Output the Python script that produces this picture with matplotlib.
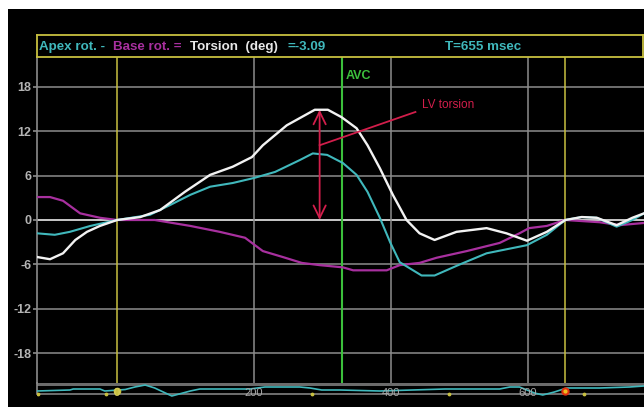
import numpy as np
import matplotlib.pyplot as plt

# time axis in msec, rotation in degrees
white_t = [-117, -98, -79, -61, -44, -25, 0, 34, 63, 99, 136, 169, 197, 213, 248, 289, 308,
           328, 350, 366, 384, 403, 423, 442, 464, 496, 540, 569, 599, 628, 655, 679, 701, 730, 753, 770]
torsion = [-5.0, -5.3, -4.5, -2.7, -1.6, -0.8, 0.0, 0.4, 1.35, 3.8, 6.1, 7.2, 8.5, 10.1, 12.8, 14.9, 14.9,
           13.9, 12.4, 10.1, 7.0, 3.4, 0.0, -1.8, -2.7, -1.6, -1.1, -1.8, -2.8, -1.6, 0.0, 0.4, 0.3, -0.7, 0.3, 0.9]

apex_t = [-117, -91, -69, -39, 0, 48, 77, 107, 136, 169, 201, 231, 267, 286, 307, 330, 350, 366,
          384, 399, 413, 445, 464, 501, 540, 599, 628, 655, 679, 701, 730, 753, 770]
apex_rot = [-1.8, -2.0, -1.6, -0.8, 0.0, 0.7, 2.0, 3.4, 4.5, 5.0, 5.7, 6.5, 8.1, 9.0, 8.8, 7.7, 6.1, 3.8,
            0.3, -3.0, -5.7, -7.5, -7.5, -6.0, -4.5, -3.4, -2.0, 0.0, 0.4, 0.3, -0.9, 0.0, 0.9]

base_t = [-117, -98, -79, -54, -25, 0, 55, 107, 150, 187, 213, 242, 270, 296, 330, 345, 394, 413,
          442, 467, 511, 559, 588, 602, 628, 655, 705, 734, 770]
base_rot = [3.1, 3.1, 2.6, 0.9, 0.3, 0.0, 0.0, -0.8, -1.6, -2.4, -4.2, -5.0, -5.8, -6.1, -6.4, -6.8, -6.8, -6.1,
            -5.8, -5.1, -4.2, -3.1, -1.8, -1.1, -0.8, 0.0, -0.3, -0.7, -0.4]

# ecg strip (arbitrary units)
ecg_t = [-117, -69, -64, -25, -18, 12, 26, 41, 55, 80, 107, 121, 194, 216, 267, 282, 299, 326,
         384, 479, 559, 574, 588, 610, 622, 639, 657, 705, 749, 770]
ecg_v = [-1, 0, 1, 1, -1, 0.5, 3, 5, 2, -6, -1, 1, 1, 3, 3, 2, 0, 0,
         -1, 1, 1, 3, 3, -3, -5, -2, 2, 2, 3, 4]
marker_t = [-115, -16, 285, 485, 683]

yticks = [-18, -12, -6, 0, 6, 12, 18]
grid_t = [200, 400, 600]
xlabels = ['200', '400', '600']
avc_t = 328
frame_t = [0, 655]

W, H = 644, 408
def fig_box(x0, y0, x1, y1):
    return [x0 / W, 1 - y1 / H, (x1 - x0) / W, (y1 - y0) / H]

plt.rcParams['font.family'] = ['Liberation Sans', 'DejaVu Sans']
fig = plt.figure(figsize=(6.44, 4.08), dpi=100)
fig.patch.set_facecolor('white')

bg = fig.add_axes(fig_box(8, 9, 644, 407))
bg.set_facecolor('black')
bg.set_xticks([])
bg.set_yticks([])
for s in bg.spines.values():
    s.set_visible(False)

yellow = '#c8c040'
cyan = '#40b8bc'
magenta = '#a8309f'
gray = '#8c8c8c'
crimson = '#d21e4b'
green = '#3cc03c'

# main plot
ax = fig.add_axes(fig_box(37, 57, 644, 383))
ax.set_facecolor('black')
ax.set_xlim(-117, 770)
ax.set_ylim(-22.03, 22.03)
for side in ['top', 'right', 'bottom']:
    ax.spines[side].set_visible(False)
ax.spines['left'].set_color(gray)
ax.spines['left'].set_linewidth(1.2)
ax.set_xticks([])
ax.set_yticks(yticks)
ax.set_yticklabels([str(v) for v in yticks], fontsize=9, fontweight='bold')
ax.tick_params(axis='y', colors=gray, length=3, width=1.2, pad=1)
for lab in ax.get_yticklabels():
    lab.set_color('#b4b4b4')

for v in yticks:
    ax.axhline(v, color='#d8d8d8' if v == 0 else gray, lw=1.3 if v == 0 else 1.1, zorder=1)
for t in grid_t:
    ax.axvline(t, color=gray, lw=1.1, zorder=1)
for t in frame_t:
    ax.axvline(t, color=yellow, lw=1.1, zorder=2)
ax.axvline(avc_t, color=green, lw=1.5, zorder=2)
ax.text(avc_t + 6, 19.5, 'AVC', color=green, fontsize=9, fontweight='bold', va='center')

ax.plot(base_t, base_rot, color=magenta, lw=1.6, zorder=3)
ax.plot(apex_t, apex_rot, color=cyan, lw=1.5, zorder=4)
ax.plot(white_t, torsion, color='#f2f2f2', lw=1.7, zorder=5)

# LV torsion annotation
ax.annotate('', xy=(296, 14.9), xytext=(296, 0.0),
            arrowprops=dict(arrowstyle='<->,head_length=0.45,head_width=0.22', color=crimson,
                            lw=1.3, shrinkA=0, shrinkB=0, mutation_scale=20), zorder=6)
ax.plot([296, 436], [10.1, 14.6], color=crimson, lw=1.3, zorder=6)
ax.text(446, 15.5, 'LV torsion', color=crimson, fontsize=8.5, va='center')

# header box
hd = fig.add_axes(fig_box(37, 35, 643, 57))
hd.set_facecolor('black')
hd.set_xticks([])
hd.set_yticks([])
for s in hd.spines.values():
    s.set_color(yellow)
    s.set_linewidth(1.3)

hy = 1 - 47 / H
fs = 9.6
fig.text(39 / W, hy, 'Apex rot. -', color=cyan, fontsize=fs, fontweight='bold', va='center')
fig.text(113 / W, hy, 'Base rot. =', color=magenta, fontsize=fs, fontweight='bold', va='center')
fig.text(190 / W, hy, 'Torsion  (deg)', color='#e8e8e8', fontsize=fs, fontweight='bold', va='center')
fig.text(287 / W, hy, '=-3.09', color=cyan, fontsize=fs, fontweight='bold', va='center')
fig.text(483 / W, hy, 'T=655 msec', color=cyan, fontsize=fs, fontweight='bold', va='center', ha='center')

# ecg strip
st = fig.add_axes(fig_box(37, 383, 644, 400))
st.set_facecolor('black')
st.set_xlim(-117, 770)
st.set_ylim(-10, 7)
st.set_xticks([])
st.set_yticks([])
for side in ['top', 'right', 'bottom']:
    st.spines[side].set_visible(False)
st.spines['left'].set_bounds(-4, 7)
st.spines['left'].set_color(gray)
st.spines['left'].set_linewidth(1.2)
st.axhline(6.6, color=gray, lw=1.1)
st.axhline(5, color=gray, lw=1.1)
st.axhline(-4, color=gray, lw=1.1)
st.plot(ecg_t, ecg_v, color=cyan, lw=1.2, zorder=3)
st.scatter(marker_t, [-4] * len(marker_t), s=3, color=yellow, zorder=4)
st.plot([0], [-1], 'o', color=yellow, ms=4.5, zorder=5)
st.plot([655], [-1], 'o', color='#e03010', ms=5, zorder=5)
st.plot([655], [-1], 'o', color='#f0c020', ms=2, zorder=6)
st.text(0, -3.5, '0', color='#d8d060', fontsize=8, ha='center', va='center', zorder=6)
for t, lab in zip(grid_t, xlabels):
    st.text(t, -3.5, lab, color='#a8a8a8', fontsize=8, ha='center', va='center', zorder=6)

fig.savefig('out.png', dpi=100, facecolor='white')
